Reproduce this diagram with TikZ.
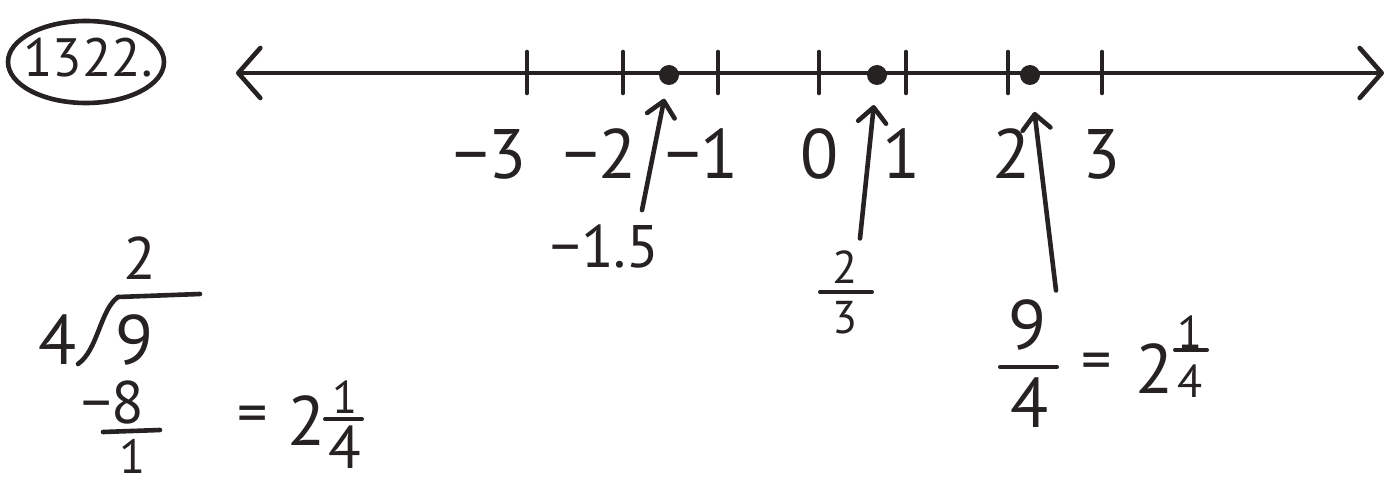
\documentclass[tikz,border=0pt]{standalone}
\usepackage{fontspec}
\setmainfont{PT Sans}
\usetikzlibrary{arrows.meta,positioning,shapes.geometric,calc}
\definecolor{marker}{RGB}{38,34,34}
\newcommand{\bigdig}{\fontsize{70}{70}\selectfont}
\newcommand{\middig}{\fontsize{60}{60}\selectfont}
\newcommand{\smalldig}{\fontsize{46}{46}\selectfont}
\tikzset{
  pen/.style={draw=marker,line width=4.6pt,line cap=round,line join=round},
  axis/.style={pen,{Straight Barb[length=22pt,width=50pt,round]}-{Straight Barb[length=22pt,width=50pt,round]}},
  numtick/.style={pen},
  fracbar/.style={pen,line width=4pt},
  dotpt/.style={circle,fill=marker,minimum size=20pt,inner sep=0pt},
  pointer/.style={pen,-{Straight Barb[length=15pt,width=28pt,round]}},
  hand/.style={text=marker,inner sep=0pt,font=#1},
  hand/.default=\bigdig,
}

\begin{document}
\begin{tikzpicture}[x=1pt,y=-1pt]
    \useasboundingbox (0,0) rectangle (1389,484);
    \node[hand=\fontsize{54}{54}\selectfont] (prob) at (88,58) {1322.};
    \draw[pen] ([xshift=-2pt,yshift=-4pt]prob.center) ellipse [x radius=78pt,y radius=41pt];

    % number line
    \coordinate (lft) at (236,73);
    \coordinate (rgt) at (1384,73);
    \draw[axis] (lft) -- (rgt);
    \foreach \t/\x/\lx [count=\i] in {−3/527/490,−2/623/600,−1/718/702,0/819/820,1/906/902,2/1008/1012,3/1102/1102}
    {
      \draw[numtick] (\x,52) -- (\x,93);
      \node[hand] (t\i) at (\lx,154) {\t};
    }
    \node[dotpt] (p1) at (669,75) {};
    \node[dotpt] (p2) at (877,75) {};
    \node[dotpt] (p3) at (1030,75) {};

    % -1.5
    \node[hand=\middig] (q1) at (605,246) {−1.5};
    \draw[pointer,shorten >=14pt] ([xshift=37pt,yshift=14pt]q1.north) -- (p1);

    % 2/3
    \node[hand=\smalldig] (q2n) at (845,267) {2};
    \draw[fracbar] (820,292) -- (872,292);
    \node[hand=\smalldig] (q2d) at (845,318) {3};
    \draw[pointer,shorten >=20pt] ([xshift=15pt,yshift=12pt]q2n.north) -- (p2);

    % 9/4 = 2 1/4
    \node[hand] (q3n) at (1028,325) {9};
    \draw[fracbar] (1000,367) -- (1057,367);
    \node[hand] (q3d) at (1030,403) {4};
    \node[hand=\middig] (q3eq) at (1097,367) {=};
    \node[hand] (q3w) at (1155,369) {2};
    \node[hand=\smalldig] (q3fn) at (1190,332) {1};
    \draw[fracbar] (1175,350) -- (1207,350);
    \node[hand=\smalldig] (q3fd) at (1190,381) {4};
    \draw[pointer,shorten >=27pt] ([xshift=28pt,yshift=9pt]q3n.north) -- (p3);

    % long division
    \node[hand=\middig] (dq) at (140,258) {2};
    \draw[pen] (118,297) -- (200,294);
    \draw[pen] (78,364) .. controls (98,350) and (100,310) .. (118,297);
    \node[hand] (dv) at (58,340) {4};
    \node[hand] (dd) at (135,340) {9};
    \node[hand=\middig] (ds) at (113,402) {−8};
    \draw[pen] (103,432) -- (160,430);
    \node[hand=\fontsize{48}{48}\selectfont] (dr) at (133,456) {1};
    \node[hand=\middig] (deq) at (253,420) {=};
    \node[hand] (dw) at (307,421) {2};
    \node[hand=\smalldig] (dfn) at (345,397) {1};
    \draw[fracbar] (325,419) -- (362,419);
    \node[hand=\middig] (dfd) at (345,447) {4};
\end{tikzpicture}
\end{document}
